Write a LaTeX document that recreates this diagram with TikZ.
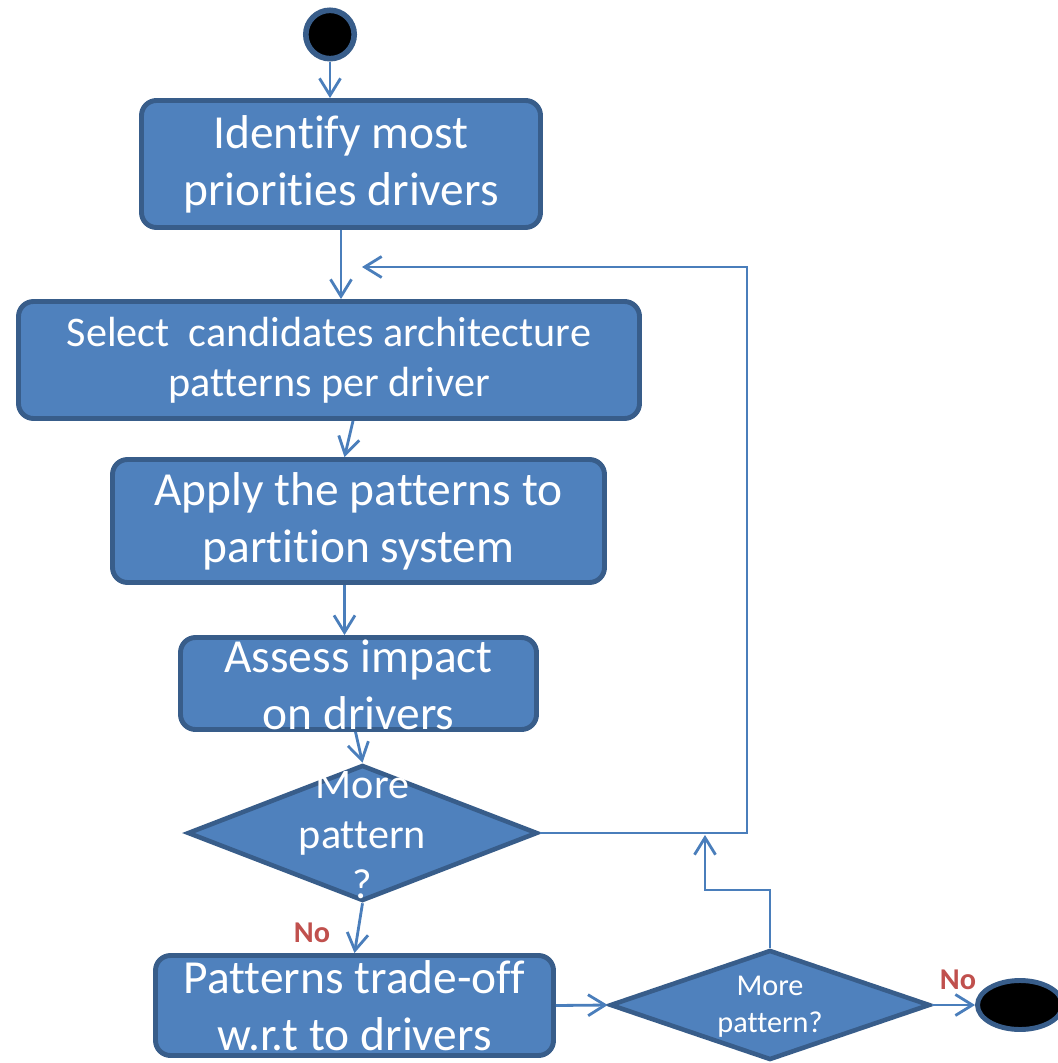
\documentclass[tikz,border=0pt]{standalone}
\usepackage{fontspec}
\setmainfont{Carlito}[Ligatures=NoCommon]
\usepackage{tikz}
\usetikzlibrary{shapes,arrows.meta}
\definecolor{boxfill}{HTML}{4F81BD}
\definecolor{boxline}{HTML}{385D8A}
\definecolor{flowline}{HTML}{4A7EBB}
\definecolor{nored}{HTML}{C0504D}

\begin{document}
\begin{tikzpicture}[textbox/.style={draw=boxline, fill=boxfill, line width=1.4pt, rounded corners=1.5mm, text=white, inner sep=0, align=center},
choice/.style={diamond, draw=boxline, fill=boxfill, line width=1.3pt, inner sep=0},
boxtext/.style={text=white, inner sep=0, align=center},
dot/.style={circle, draw=boxline, fill=black, line width=1.6pt, minimum size=4.84mm, inner sep=0},
bigtext/.style={font=\fontsize{13.5}{16.2}\selectfont},
midtext/.style={font=\fontsize{12}{14.2}\selectfont},
smalltext/.style={font=\fontsize{8.6}{10.5}\selectfont},
nolabel/.style={font=\fontsize{8.6}{10.5}\selectfont\bfseries, text=nored, inner sep=0},
flow/.style={draw=flowline, line width=0.8pt, -{Straight Barb[length=1.7mm, width=2.1mm]}}]
\useasboundingbox (0,0) rectangle (10.57,-10.63);
%activity boxes
\node[dot] (v0) at (3.30,-0.345) {};
\node[textbox, bigtext, minimum width=3.99cm, minimum height=1.27cm] (v1) at (3.41,-1.64) {Identify most\\priorities drivers};
\node[textbox, midtext, minimum width=6.21cm, minimum height=1.17cm] (v2) at (3.29,-3.60) {Select~ candidates architecture\\patterns per driver};
\node[textbox, bigtext, minimum width=4.92cm, minimum height=1.23cm] (v3) at (3.585,-5.21) {Apply the patterns to\\partition system};
\node[textbox, minimum width=3.56cm, minimum height=0.92cm] (v4) at (3.585,-6.835) {};
\node[boxtext, bigtext] (t4) at (3.585,-6.85) {Assess impact\\on drivers};
\node[choice, minimum width=3.5cm, minimum height=1.36cm] (v5) at (3.625,-8.33) {};
\node[boxtext, midtext] (t5) at (3.625,-8.35) {More\\pattern\\?};
\node[textbox, bigtext, minimum width=3.98cm, minimum height=1.0cm] (v6) at (3.545,-10.055) {Patterns trade-off\\w.r.t to drivers};
\node[choice, minimum width=3.2cm, minimum height=1.1cm] (v7) at (7.70,-10.05) {};
\node[boxtext, smalltext] (t7) at (7.70,-10.065) {More\\pattern?};
\node[dot, ellipse, line width=1.4pt, minimum width=0.85cm, minimum height=0.49cm] (v8) at (10.20,-10.05) {};
\node[nolabel] (n1) at (3.12,-9.33) {No};
\node[nolabel] (n2) at (9.58,-9.80) {No};
%loop corners
\coordinate (c1) at (7.47,-2.67);
\coordinate (c2) at (3.62,-2.67);
\coordinate (c3) at (7.05,-8.90);
\coordinate (c4) at (7.05,-8.35);
\draw [flow] (v0.south) -- (v0.south |- v1.north);
\draw [flow] (v1.south) -- (v1.south |- v2.north);
\draw [flow] ([xshift=2.4mm]v2.south) -- ([xshift=-1.4mm]v3.north);
\draw [flow] ([xshift=-1.4mm]v3.south) -- ([xshift=-1.4mm]v4.north);
\draw [flow] ([xshift=-0.3mm]v4.south) -- (v5.north);
\draw [flow] (v5.south) -- (v6.north);
\draw [flow] (v6.east) -- (v7.west);
\draw [flow] (v7.east) -- (v8.west);
\draw [flow] (v5.east) -| (c1) -- (c2);
\draw [flow] (v7.north) |- (c3) -- (c4);
\end{tikzpicture}
\end{document}
